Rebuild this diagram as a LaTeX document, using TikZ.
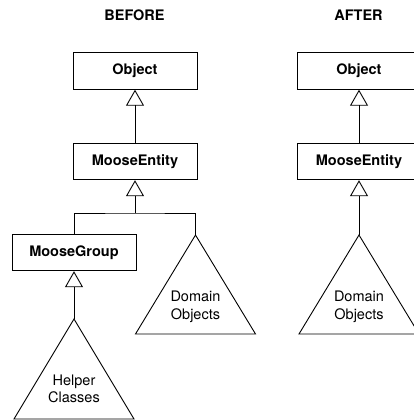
\documentclass[tikz,border=0pt]{standalone}
\usepackage{fontspec}
\setmainfont{TeX Gyre Heros}
\usetikzlibrary{arrows.meta}
\tikzset{
	cls/.style={draw, line width=0.9pt, minimum width=124pt, minimum height=36.5pt, inner sep=0pt, font=\fontsize{14.5}{17.5}\selectfont\bfseries},
	lbl/.style={align=center, font=\fontsize{14.5}{17.5}\selectfont},
	ttl/.style={font=\fontsize{14.5}{17.5}\selectfont\bfseries},
	inh/.style={-{Triangle[open,length=16pt,width=18pt]}, line width=0.9pt},
	tri/.style={line width=0.9pt, line join=miter}
}
\begin{document}
\begin{tikzpicture}[x=1pt,y=-1pt]
	\useasboundingbox (0,0) rectangle (414,420);
	%before
	\node [ttl] (bef) at (134.5,15.5) {BEFORE};
	\node [cls] (obj1) at (135,71) {Object};
	\node [cls] (ent1) at (135,161.5) {MooseEntity};
	\node [cls] (grp) at (74,252.5) {MooseGroup};
	\coordinate (fork) at (135,213);
	\coordinate (dom1) at (195.5,235);
	\coordinate (hlp) at (74,319);
	\draw [tri] (dom1) -- ++(-60,99) -- ++(120,0) -- cycle;
	\draw [tri] (hlp) -- ++(-60,100) -- ++(120,0) -- cycle;
	\node [lbl] (domtxt1) at (195.5,307) {Domain\\Objects};
	\node [lbl] (hlptxt) at (74,389) {Helper\\Classes};
	
	%before: inheritance
	\draw [inh] (ent1.north) -- (obj1.south);
	\draw [inh] (fork) -- (ent1.south);
	\draw [tri] (grp.north) |- (fork) -| (dom1);
	\draw [inh] (hlp) -- (grp.south);
	
	%after
	\node [ttl] (aft) at (358.5,15.5) {AFTER};
	\node [cls] (obj2) at (359,71) {Object};
	\node [cls] (ent2) at (359,161.5) {MooseEntity};
	\coordinate (dom2) at (359,235);
	\draw [tri] (dom2) -- ++(-60,99) -- ++(120,0) -- cycle;
	\node [lbl] (domtxt2) at (359,307) {Domain\\Objects};
	
	%after: inheritance
	\draw [inh] (ent2.north) -- (obj2.south);
	\draw [inh] (dom2) -- (ent2.south);
\end{tikzpicture}
\end{document}
